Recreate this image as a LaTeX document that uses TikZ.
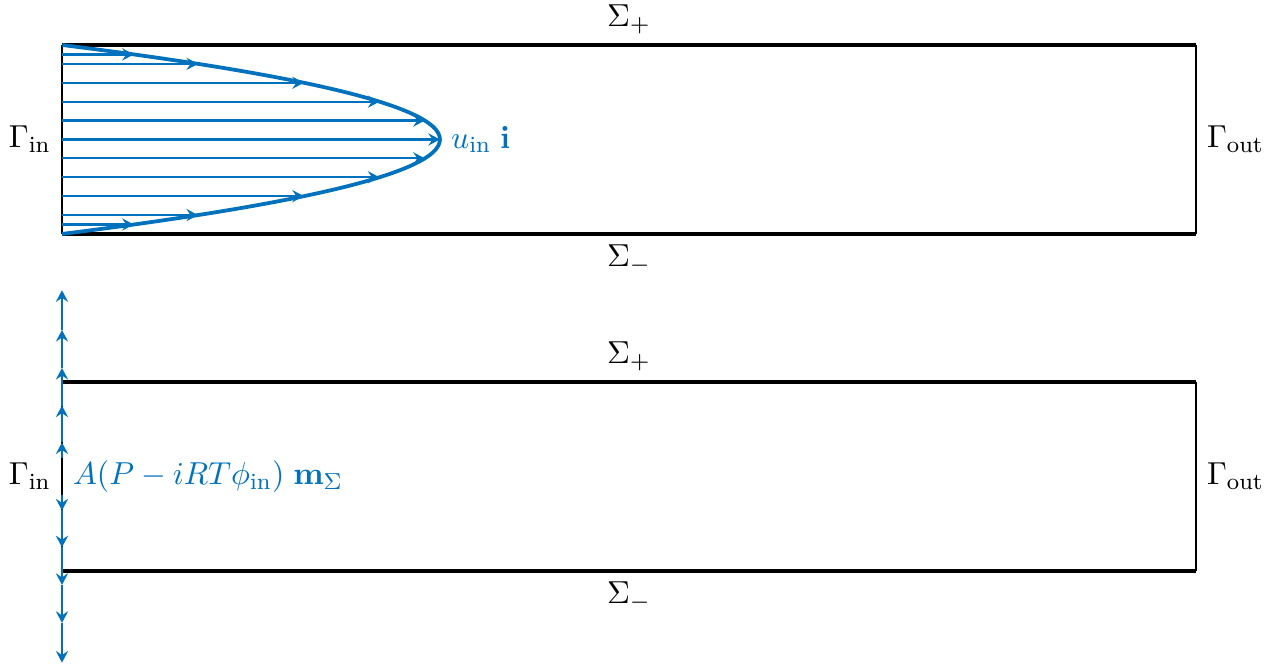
\documentclass[tikz,border=0pt,11pt]{standalone}
\usepackage{amsmath}
\usepackage{tikz}
\usetikzlibrary{arrows.meta}
\definecolor{flowblue}{RGB}{0,114,189}

\begin{document}
\begin{tikzpicture}[x=2.29cm, y=2.29cm,
    wall/.style={line width=1.2pt},
    edge/.style={line width=0.5pt},
    flow/.style={flowblue, line width=0.75pt, -{Stealth[length=4pt,width=4.2pt,inset=1.4pt]}},
    profile/.style={flowblue, line width=1.3pt}]
\useasboundingbox (-0.328,-2.312) rectangle (6.392,1.238);

% upper channel: inflow profile
\coordinate (a1) at (0,0);
\coordinate (b1) at (6,0);
\coordinate (c1) at (6,1);
\coordinate (d1) at (0,1);
\draw[edge] (a1) -- (d1);
\draw[edge] (b1) -- (c1);
\draw[wall] (a1) -- (b1);
\draw[wall] (d1) -- (c1);

\foreach \y in {0.05,0.1,0.2,0.3,0.4,0.5,0.6,0.7,0.8,0.9,0.95}{
    \draw[flow] (0,\y) -- ({8*\y*(1-\y)},\y);
}
\draw[profile] plot[domain=0:1, samples=61, smooth, variable=\t] ({8*\t*(1-\t)},\t);

\coordinate (vtx) at (2,0.5);
\node[right, flowblue] (uin) at (vtx) {$u_{\text{in}}\;\mathbf{i}$};
\path (d1) -- (c1) node[midway, above] (splus1) {$\Sigma_+$};
\path (a1) -- (b1) node[midway, below] (sminus1) {$\Sigma_-$};
\path (a1) -- (d1) node[midway, left] (gin1) {$\Gamma_{\text{in}}$};
\path (b1) -- (c1) node[midway, right] (gout1) {$\Gamma_{\text{out}}$};

% lower channel: boundary traction
\coordinate (a2) at (0,-1.783);
\coordinate (b2) at (6,-1.783);
\coordinate (c2) at (6,-0.783);
\coordinate (d2) at (0,-0.783);
\coordinate (m2) at (0,-1.283);
\draw[edge] (a2) -- (d2);
\draw[edge] (b2) -- (c2);
\draw[wall] (a2) -- (b2);
\draw[wall] (d2) -- (c2);

\foreach \s/\e in {0.1/0.18,0.18/0.375,0.375/0.574,0.574/0.775,0.775/0.985}{
    \draw[flow] ([yshift=\s*2.29cm]m2) -- ([yshift=\e*2.29cm]m2);
    \draw[flow] ([yshift=-\s*2.29cm]m2) -- ([yshift=-\e*2.29cm]m2);
}

\node[right, flowblue] (trac) at (m2) {$A(P - iRT\phi_{\text{in}})\;\mathbf{m}_{\Sigma}$};
\path (d2) -- (c2) node[midway, above] (splus2) {$\Sigma_+$};
\path (a2) -- (b2) node[midway, below] (sminus2) {$\Sigma_-$};
\path (a2) -- (d2) node[midway, left] (gin2) {$\Gamma_{\text{in}}$};
\path (b2) -- (c2) node[midway, right] (gout2) {$\Gamma_{\text{out}}$};
\end{tikzpicture}
\end{document}
